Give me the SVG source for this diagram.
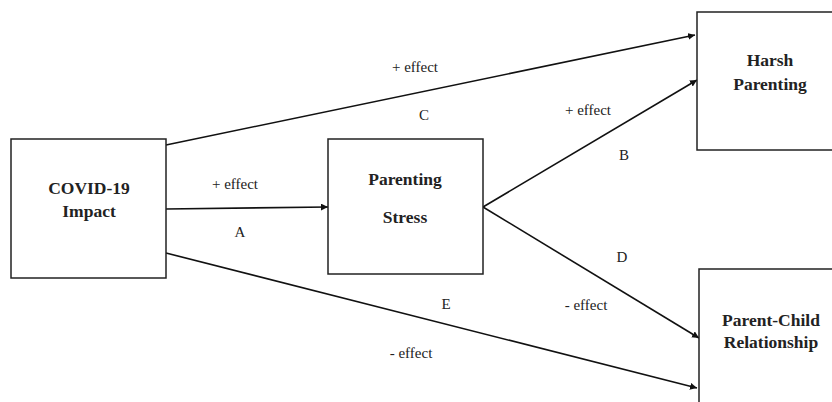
<svg xmlns="http://www.w3.org/2000/svg" width="832" height="402" viewBox="0 0 832 402">
<style>
.box{fill:#fff;stroke:#222;stroke-width:1.5}
.nt{font-family:"Liberation Serif",serif;font-weight:bold;font-size:17.5px;fill:#222;text-anchor:middle}
.el{font-family:"Liberation Serif",serif;font-size:15px;fill:#222;text-anchor:middle}
.edge{stroke:#111;stroke-width:1.6;fill:none;marker-end:url(#ah)}
</style>
<defs>
<marker id="ah" viewBox="0 0 10 10" refX="10" refY="5" markerWidth="7" markerHeight="7" markerUnits="userSpaceOnUse" orient="auto">
<path d="M0,0 L10,5 L0,10 z" fill="#111"/>
</marker>
</defs>
<rect width="832" height="402" fill="#fff"/>
<g id="connectors">
<line class="edge" x1="166" y1="145" x2="695" y2="35"/>
<line class="edge" x1="166" y1="209" x2="328" y2="207"/>
<line class="edge" x1="483" y1="207" x2="697" y2="80"/>
<line class="edge" x1="483" y1="207" x2="699" y2="338"/>
<line class="edge" x1="166" y1="253" x2="697" y2="388"/>
<text class="el" x="415" y="72">+ effect</text>
<text class="el" x="424" y="120">C</text>
<text class="el" x="235" y="189">+ effect</text>
<text class="el" x="240" y="237">A</text>
<text class="el" x="588" y="115">+ effect</text>
<text class="el" x="624" y="160">B</text>
<text class="el" x="622" y="262">D</text>
<text class="el" x="586" y="310">- effect</text>
<text class="el" x="446" y="309">E</text>
<text class="el" x="411" y="358">- effect</text>
</g>
<g id="covid">
<rect class="box" x="11" y="139" width="155" height="139"/>
<text class="nt" x="89" y="194">COVID-19</text>
<text class="nt" x="89" y="217">Impact</text>
</g>
<g id="stress">
<rect class="box" x="328" y="139" width="155" height="135"/>
<text class="nt" x="405" y="185">Parenting</text>
<text class="nt" x="405" y="223">Stress</text>
</g>
<g id="harsh">
<rect class="box" x="697" y="12" width="145" height="138"/>
<text class="nt" x="770" y="66">Harsh</text>
<text class="nt" x="770" y="90">Parenting</text>
</g>
<g id="pcr">
<rect class="box" x="699" y="269" width="145" height="150"/>
<text class="nt" x="771" y="326">Parent-Child</text>
<text class="nt" x="771" y="348">Relationship</text>
</g>
</svg>
